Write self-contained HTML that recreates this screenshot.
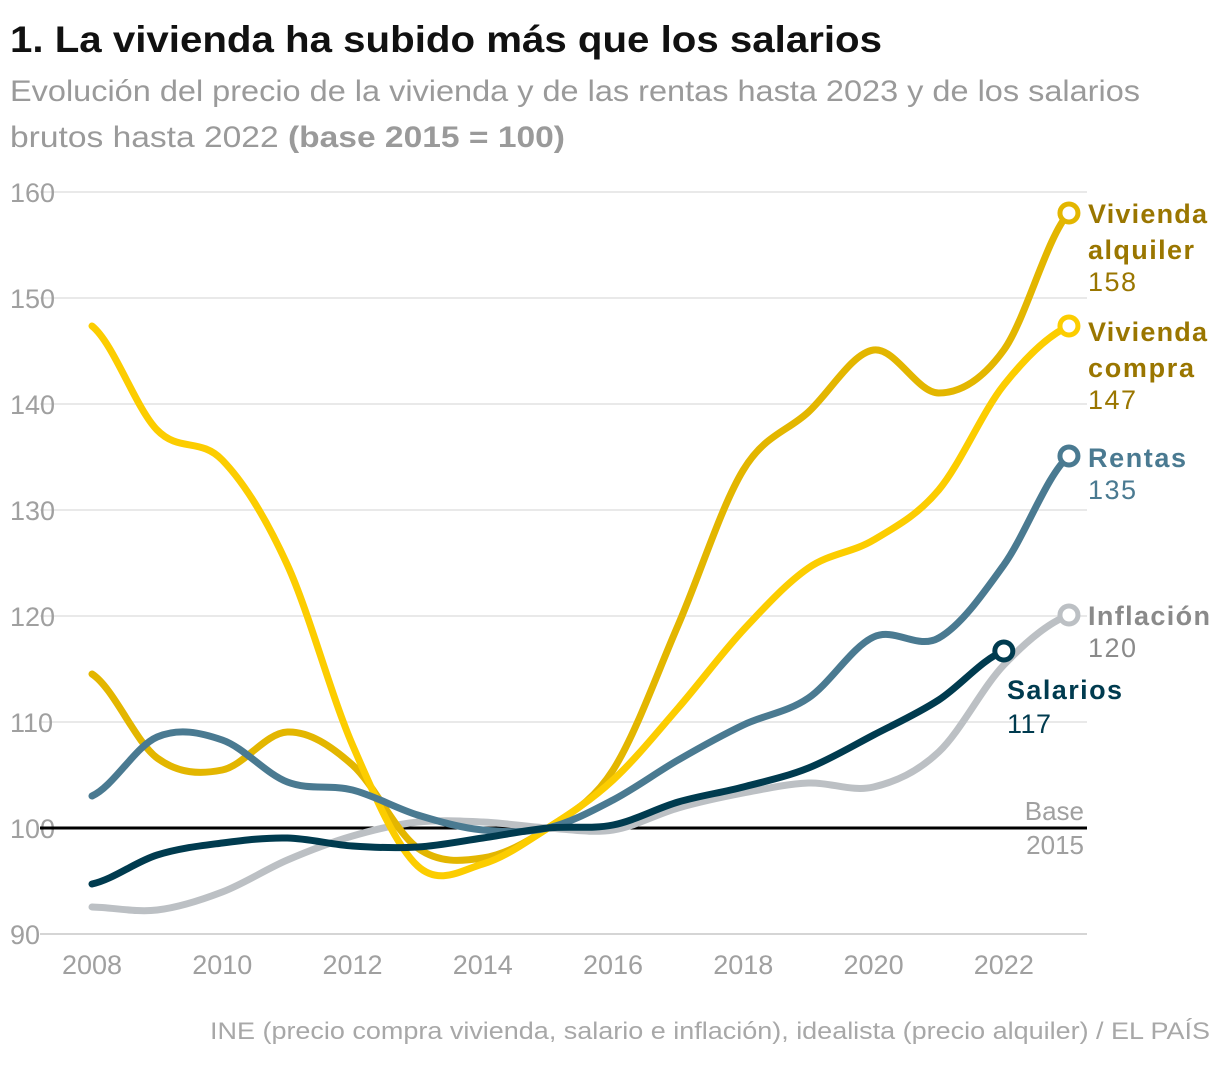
<!DOCTYPE html>
<html><head><meta charset="utf-8"><style>
body{margin:0;background:#fff;width:1220px;height:1060px;overflow:hidden;font-family:"Liberation Sans",sans-serif}
</style></head><body>
<svg id="s" width="1220" height="1060" xmlns="http://www.w3.org/2000/svg" font-family="Liberation Sans, sans-serif">
<text x="10" y="52" font-size="37" font-weight="bold" fill="#111" textLength="872" lengthAdjust="spacingAndGlyphs">1. La vivienda ha subido más que los salarios</text>
<text x="10" y="101" font-size="30" fill="#9a9a9a" textLength="1130" lengthAdjust="spacingAndGlyphs">Evolución del precio de la vivienda y de las rentas hasta 2023 y de los salarios</text>
<text x="10" y="147" font-size="30" fill="#9a9a9a" textLength="555" lengthAdjust="spacingAndGlyphs">brutos hasta 2022 <tspan font-weight="bold">(base 2015 = 100)</tspan></text>
<g id="grid" stroke="#e2e2e2" stroke-width="1.5"></g>
<g id="yl" font-size="27" fill="#a0a0a0"></g>
<g id="xl" font-size="27" fill="#a0a0a0" text-anchor="middle"></g>
<line x1="40" x2="1087" y1="828" y2="828" stroke="#000" stroke-width="3"/>
<text x="1084" y="820" font-size="26" fill="#a0a0a0" text-anchor="end">Base</text>
<text x="1084" y="854" font-size="26" fill="#a0a0a0" text-anchor="end">2015</text>
<g id="lines" fill="none" stroke-width="7" stroke-linecap="round" stroke-linejoin="round"></g>
<g font-size="27" font-weight="bold" lengthAdjust="spacingAndGlyphs">
<text x="1088" y="223" fill="#9a7600" textLength="119">Vivienda</text>
<text x="1088" y="259" fill="#9a7600" textLength="106">alquiler</text>
<text x="1088" y="291" font-weight="normal" fill="#9a7600" textLength="48">158</text>
<text x="1088" y="341" fill="#9a7600" textLength="119">Vivienda</text>
<text x="1088" y="377" fill="#9a7600" textLength="106">compra</text>
<text x="1088" y="409" font-weight="normal" fill="#9a7600" textLength="48">147</text>
<text x="1088" y="467" fill="#4a7a91" textLength="98">Rentas</text>
<text x="1088" y="499" font-weight="normal" fill="#4a7a91" textLength="48">135</text>
<text x="1088" y="625" fill="#8a8a8a" textLength="122">Inflación</text>
<text x="1088" y="657" font-weight="normal" fill="#8a8a8a" textLength="48">120</text>
<text x="1007" y="699" fill="#003b4f" textLength="115">Salarios</text>
<text x="1007" y="733" font-weight="normal" fill="#003b4f" textLength="44">117</text>
</g>
<text x="1210" y="1039" font-size="24" fill="#a8a8a8" text-anchor="end" textLength="1000" lengthAdjust="spacingAndGlyphs">INE (precio compra vivienda, salario e inflación), idealista (precio alquiler) / EL PAÍS</text>
</svg>
<script>
var ns="http://www.w3.org/2000/svg",s=document.getElementById('s');
function el(p,t,a,txt){var e=document.createElementNS(ns,t);for(var k in a)e.setAttribute(k,a[k]);if(txt)e.textContent=txt;document.getElementById(p).appendChild(e);return e;}
for(var v=90;v<=160;v+=10){var y=192+(160-v)*10.6;el('grid','line',{x1:40,x2:1087,y1:y,y2:y});el('yl','text',{x:10,y:y+10},String(v));}
for(var yr=2008;yr<=2022;yr+=2){el('xl','text',{x:92+(yr-2008)*65.13,y:974},String(yr));}
el('grid','line',{x1:40,x2:1087,y1:934,y2:934,stroke:'#ccc'});
var X=function(i){return 92+i*65.13;};
var S=[
['#bcc0c4',[907,910,892,860,836,822,822,828,830,808,793,783,787,752,665,615]],
['#e3b600',[674,758,770,732,765,848,858,828,770,625,470,412,350,393,350,213]],
['#fccd00',[326,430,460,565,745,866,864,828,780,708,630,568,540,490,385,326]],
['#4a7a91',[796,737,740,782,790,815,830,828,800,760,725,698,637,638,565,456]],
['#003b4f',[884,855,843,838,846,847,838,828,825,802,787,768,735,700,651]]
];
S.forEach(function(o){var c=o[0],p=o[1],n=p.length,d='M'+X(0)+','+p[0];
for(var i=0;i<n-1;i++){var p0=p[Math.max(i-1,0)],p3=p[Math.min(i+2,n-1)];
var x1=X(i)+65.13/3,y1=p[i]+(p[i+1]-p0)/6,x2=X(i+1)-65.13/3,y2=p[i+1]-(p3-p[i])/6;
d+=' C'+x1+','+y1+' '+x2+','+y2+' '+X(i+1)+','+p[i+1];}
el('lines','path',{d:d,stroke:c});
el('lines','circle',{cx:X(n-1),cy:p[n-1],r:9,fill:'#fff',stroke:c,'stroke-width':5});});
</script>
</body></html>
